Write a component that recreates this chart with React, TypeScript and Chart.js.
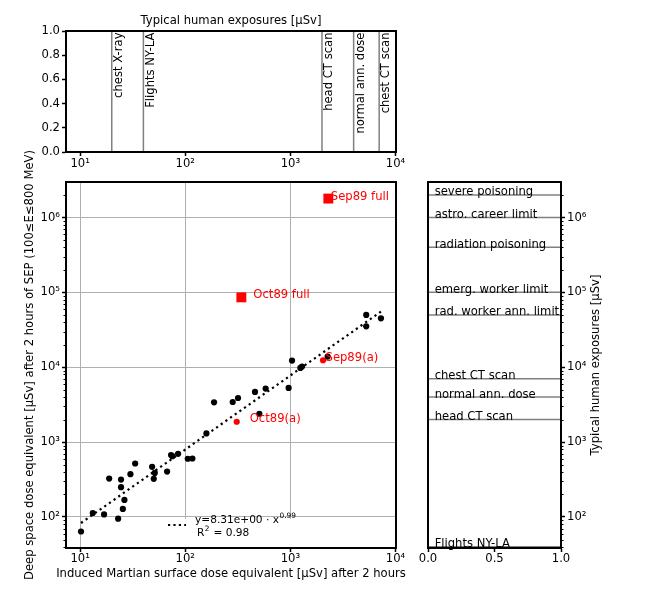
import React, { useEffect, useRef } from "react";
import { Chart, registerables } from "chart.js";

Chart.register(...registerables);

const W = 660;
const H = 609;
const FONT_FAMILY = "'DejaVu Sans', 'Liberation Sans', sans-serif";
const BASE_SIZE = 11.6;
const LEGEND_SIZE = 10.6;

// ---------------- data ----------------
// Top panel: typical human exposures as vertical markers [µSv]
const exposureLabels = ["chest X-ray", "Flights NY-LA", "head CT scan", "normal ann. dose", "chest CT scan"];
const exposureValues = [20, 40, 2000, 4000, 7000];

// Right panel: typical human exposures as horizontal markers [µSv]
const limitLabels = [
  "severe poisoning",
  "astro. career limit",
  "radiation poisoning",
  "emerg. worker limit",
  "rad. worker ann. limit",
  "chest CT scan",
  "normal ann. dose",
  "head CT scan",
  "Flights NY-LA",
];
const limitValues = [2e6, 1e6, 4e5, 1e5, 5e4, 7000, 4000, 2000, 40];

// Main panel: Martian surface dose (x) vs deep space dose (y) [µSv]
const marsDose = [
  10.2, 13.2, 16.9, 18.9, 23, 24.5, 24.5, 25.5, 26.4, 30.1, 33.4, 48.4, 50.2, 51.3, 67.2, 73.3, 75.5, 85.5,
  105.7, 117, 159, 188, 283, 318, 461, 507, 582, 963, 1038, 1245, 1291, 2265, 5270, 5270, 7280,
];
const spaceDose = [
  64, 113, 108, 326, 95, 316, 250, 128, 169, 373, 518, 468, 323, 388, 404, 670, 649, 698,
  599, 604, 1307, 3400, 3433, 3880, 4677, 2393, 5180, 5290, 12270, 9800, 10200, 13880, 49900, 35200, 45000,
];

const eventPartLabels = ["Sep89(a)", "Oct89(a)"];
const eventPartMars = [2046, 309];
const eventPartSpace = [12400, 1870];

const eventFullLabels = ["Sep89 full", "Oct89 full"];
const eventFullMars = [2298, 342];
const eventFullSpace = [1.79e6, 85800];

// power-law fit line end points
const fitMars = [10.2, 7280];
const fitSpace = [83, 55300];
const fitEquation = "y=8.31e+00 · x";
const fitExponent = "0.99";
const fitR2 = "0.98";

// axis ranges and ticks
const X_MIN = 7.34;
const X_MAX = 10120;
const Y_MIN = 38.5;
const Y_MAX = 2.98e6;
const xDecades = [10, 100, 1000, 10000];
const yDecades = [100, 1000, 1e4, 1e5, 1e6];
const topYTicks = [0, 0.2, 0.4, 0.6, 0.8, 1.0];
const sideXTicks = [0, 0.5, 1.0];

// text
const topTitle = "Typical human exposures [µSv]";
const mainXTitle = "Induced Martian surface dose equivalent [µSv] after 2 hours";
const mainYTitle = "Deep space dose equivalent [µSv] after 2 hours of SEP (100≤E≤800 MeV)";
const sideYTitle = "Typical human exposures [µSv]";

// ---------------- helpers ----------------
const SUP: Record<string, string> = {
  "0": "⁰", "1": "¹", "2": "²", "3": "³", "4": "⁴", "5": "⁵", "6": "⁶", "7": "⁷", "8": "⁸", "9": "⁹", "-": "⁻",
};
const sup = (n: number) => String(n).split("").map((c) => SUP[c] ?? c).join("");
const powLabel = (v: number) => "10" + sup(Math.round(Math.log10(v)));
const font = (size: number) => `${size}px ${FONT_FAMILY}`;

const TOP_AREA = { left: 66, top: 31, right: 396, bottom: 152 };
const MAIN_AREA = { left: 66, top: 182, right: 396, bottom: 548 };
const SIDE_AREA = { left: 428, top: 182, right: 561, bottom: 548 };

const LINE_GRAY = "#808080";
const GRID_GRAY = "#b0b0b0";

const commonOptions: any = {
  responsive: false,
  animation: false,
  devicePixelRatio: 1,
  events: [],
  plugins: { legend: { display: false }, tooltip: { enabled: false }, title: { display: false } },
};

const tickFont = { family: FONT_FAMILY, size: BASE_SIZE };

function minorLogValues(min: number, max: number) {
  const out: number[] = [];
  for (let k = Math.floor(Math.log10(min)); k <= Math.ceil(Math.log10(max)); k++) {
    for (let m = 2; m <= 9; m++) {
      const v = m * Math.pow(10, k);
      if (v >= min && v <= max) out.push(v);
    }
  }
  return out;
}

function drawFrame(chart: any) {
  const { ctx, chartArea: a } = chart;
  ctx.save();
  ctx.strokeStyle = "black";
  ctx.lineWidth = 2;
  ctx.strokeRect(a.left, a.top, a.right - a.left, a.bottom - a.top);
  ctx.restore();
}

function drawMinorY(chart: any, side: "left" | "right") {
  const { ctx, chartArea: a } = chart;
  const s = chart.scales.y;
  ctx.save();
  ctx.strokeStyle = "black";
  ctx.lineWidth = 1;
  const x0 = side === "left" ? a.left : a.right;
  const dx = side === "left" ? -2.5 : 2.5;
  for (const v of minorLogValues(s.min, s.max)) {
    const y = Math.round(s.getPixelForValue(v)) + 0.5;
    ctx.beginPath();
    ctx.moveTo(x0, y);
    ctx.lineTo(x0 + dx, y);
    ctx.stroke();
  }
  ctx.restore();
}

function rotatedText(ctx: CanvasRenderingContext2D, text: string, x: number, y: number, align: CanvasTextAlign, baseline: CanvasTextBaseline, size: number, color = "black") {
  ctx.save();
  ctx.translate(x, y);
  ctx.rotate(-Math.PI / 2);
  ctx.font = font(size);
  ctx.fillStyle = color;
  ctx.textAlign = align;
  ctx.textBaseline = baseline;
  ctx.fillText(text, 0, 0);
  ctx.restore();
}

function logTicks(values: number[], min: number, max: number) {
  return values.filter((v) => v >= min && v <= max).map((v) => ({ value: v, major: true }));
}

// ---------------- charts ----------------
function makeTop(canvas: HTMLCanvasElement) {
  const datasets = exposureValues.map((v) => ({
    data: [{ x: v, y: 0 }, { x: v, y: 1 }],
    showLine: true,
    borderColor: LINE_GRAY,
    borderWidth: 1.5,
    pointRadius: 0,
  }));
  const plugin = {
    id: "topDecor",
    afterDatasetsDraw(chart: any) {
      const { ctx, chartArea: a } = chart;
      const xs = chart.scales.x;
      exposureValues.forEach((v, i) => {
        const px = xs.getPixelForValue(v);
        rotatedText(ctx, exposureLabels[i], px + 1.5, a.top + 1.5, "right", "top", BASE_SIZE);
      });
      ctx.save();
      ctx.font = font(BASE_SIZE);
      ctx.fillStyle = "black";
      ctx.textAlign = "center";
      ctx.textBaseline = "middle";
      ctx.fillText(topTitle, (a.left + a.right) / 2, 20.5);
      ctx.restore();
    },
    afterDraw(chart: any) {
      drawFrame(chart);
    },
  };
  return new Chart(canvas, {
    type: "scatter",
    data: { datasets } as any,
    options: {
      ...commonOptions,
      layout: { padding: { left: 0, top: TOP_AREA.top, right: W - TOP_AREA.right, bottom: 0 } },
      scales: {
        x: {
          type: "logarithmic",
          min: X_MIN,
          max: X_MAX,
          afterBuildTicks: (s: any) => { s.ticks = logTicks(xDecades, X_MIN, X_MAX); },
          afterFit: (s: any) => { s.height = H - TOP_AREA.bottom; },
          ticks: { autoSkip: false, maxRotation: 0, padding: 1, color: "black", font: tickFont, callback: (v: any) => powLabel(Number(v)) },
          grid: { drawOnChartArea: false, tickLength: 4, tickColor: "black", tickWidth: 1.5 },
          border: { color: "black", width: 2 },
        },
        y: {
          type: "linear",
          min: 0,
          max: 1,
          afterBuildTicks: (s: any) => { s.ticks = topYTicks.map((v) => ({ value: v })); },
          afterFit: (s: any) => { s.width = TOP_AREA.left; },
          ticks: { autoSkip: false, padding: 2, color: "black", font: tickFont, callback: (v: any) => Number(v).toFixed(1) },
          grid: { drawOnChartArea: false, tickLength: 4, tickColor: "black", tickWidth: 1.5 },
          border: { color: "black", width: 2 },
        },
      },
    } as any,
    plugins: [plugin],
  });
}

function makeMain(canvas: HTMLCanvasElement) {
  const pts = (xs: number[], ys: number[]) => xs.map((x, i) => ({ x, y: ys[i] }));
  const datasets = [
    {
      data: pts(eventFullMars, eventFullSpace),
      pointStyle: "rect",
      pointRadius: 7,
      backgroundColor: "#ff0000",
      borderWidth: 0,
    },
    {
      data: pts(marsDose, spaceDose),
      pointRadius: 3.1,
      backgroundColor: "#000000",
      borderWidth: 0,
    },
    {
      data: pts(eventPartMars, eventPartSpace),
      pointRadius: 3.1,
      backgroundColor: "#ff0000",
      borderWidth: 0,
    },
    {
      data: pts(fitMars, fitSpace),
      showLine: true,
      borderColor: "black",
      borderWidth: 2.2,
      borderDash: [2.2, 3.5],
      pointRadius: 0,
    },
  ];
  const fullOffsets = [2.5, 12];
  const partOffsets = [2.5, 13];
  const plugin = {
    id: "mainDecor",
    afterDatasetsDraw(chart: any) {
      const { ctx, chartArea: a } = chart;
      const xs = chart.scales.x;
      const ys = chart.scales.y;
      ctx.save();
      ctx.font = font(BASE_SIZE);
      ctx.fillStyle = "#ff0000";
      ctx.textAlign = "left";
      ctx.textBaseline = "alphabetic";
      eventFullLabels.forEach((t, i) => {
        ctx.fillText(t, xs.getPixelForValue(eventFullMars[i]) + fullOffsets[i], ys.getPixelForValue(eventFullSpace[i]) + 1);
      });
      eventPartLabels.forEach((t, i) => {
        ctx.fillText(t, xs.getPixelForValue(eventPartMars[i]) + partOffsets[i], ys.getPixelForValue(eventPartSpace[i]) + 0.5);
      });
      ctx.restore();

      // legend (lower center)
      const cx = (a.left + a.right) / 2;
      const gridY = ys.getPixelForValue(100);
      ctx.save();
      ctx.fillStyle = "white";
      ctx.fillRect(cx - 68, gridY + 2, 137, a.bottom - gridY - 3);
      ctx.strokeStyle = "black";
      ctx.lineWidth = 2.2;
      ctx.setLineDash([2.2, 3.2]);
      const dy = a.bottom - 23;
      ctx.beginPath();
      ctx.moveTo(cx - 63, dy);
      ctx.lineTo(cx - 45, dy);
      ctx.stroke();
      ctx.setLineDash([]);
      ctx.fillStyle = "black";
      ctx.textAlign = "left";
      ctx.textBaseline = "middle";
      const tx = cx - 36;
      const l1 = a.bottom - 28;
      const l2 = a.bottom - 14.5;
      ctx.font = font(LEGEND_SIZE);
      ctx.fillText(fitEquation, tx, l1);
      let w = ctx.measureText(fitEquation).width;
      ctx.font = font(LEGEND_SIZE * 0.7);
      ctx.fillText(fitExponent, tx + w + 0.5, l1 - 4);
      ctx.font = font(LEGEND_SIZE);
      ctx.fillText("R", tx + 2, l2);
      w = ctx.measureText("R").width;
      ctx.font = font(LEGEND_SIZE * 0.7);
      ctx.fillText("2", tx + 2 + w + 0.5, l2 - 4);
      const w2 = ctx.measureText("2").width;
      ctx.font = font(LEGEND_SIZE);
      ctx.fillText(" = " + fitR2, tx + 2 + w + w2 + 1, l2);
      ctx.restore();

      // axis titles
      ctx.save();
      ctx.font = font(BASE_SIZE);
      ctx.fillStyle = "black";
      ctx.textAlign = "center";
      ctx.textBaseline = "middle";
      ctx.fillText(mainXTitle, cx, 574);
      ctx.restore();
      rotatedText(ctx, mainYTitle, 30, (a.top + a.bottom) / 2, "center", "middle", BASE_SIZE);
    },
    afterDraw(chart: any) {
      drawMinorY(chart, "left");
      drawFrame(chart);
    },
  };
  return new Chart(canvas, {
    type: "scatter",
    data: { datasets } as any,
    options: {
      ...commonOptions,
      layout: { padding: { left: 0, top: MAIN_AREA.top, right: W - MAIN_AREA.right, bottom: 0 } },
      scales: {
        x: {
          type: "logarithmic",
          min: X_MIN,
          max: X_MAX,
          afterBuildTicks: (s: any) => { s.ticks = logTicks(xDecades, X_MIN, X_MAX); },
          afterFit: (s: any) => { s.height = H - MAIN_AREA.bottom; },
          ticks: { autoSkip: false, maxRotation: 0, padding: 0, color: "black", font: tickFont, callback: (v: any) => powLabel(Number(v)) },
          grid: { color: GRID_GRAY, lineWidth: 1, tickLength: 4, tickColor: "black", tickWidth: 1.5 },
          border: { color: "black", width: 2 },
        },
        y: {
          type: "logarithmic",
          min: Y_MIN,
          max: Y_MAX,
          afterBuildTicks: (s: any) => { s.ticks = logTicks(yDecades, Y_MIN, Y_MAX); },
          afterFit: (s: any) => { s.width = MAIN_AREA.left; },
          ticks: { autoSkip: false, padding: 2, color: "black", font: tickFont, callback: (v: any) => powLabel(Number(v)) },
          grid: { color: GRID_GRAY, lineWidth: 1, tickLength: 4, tickColor: "black", tickWidth: 1.5 },
          border: { color: "black", width: 2 },
        },
      },
    } as any,
    plugins: [plugin],
  });
}

function makeSide(canvas: HTMLCanvasElement) {
  const datasets = limitValues.map((v) => ({
    data: [{ x: 0, y: v }, { x: 1, y: v }],
    showLine: true,
    borderColor: LINE_GRAY,
    borderWidth: 1.5,
    pointRadius: 0,
  }));
  const plugin = {
    id: "sideDecor",
    afterDatasetsDraw(chart: any) {
      const { ctx, chartArea: a } = chart;
      const xs = chart.scales.x;
      const ys = chart.scales.y;
      ctx.save();
      ctx.font = font(BASE_SIZE);
      ctx.fillStyle = "black";
      ctx.textAlign = "left";
      ctx.textBaseline = "alphabetic";
      limitValues.forEach((v, i) => {
        ctx.fillText(limitLabels[i], xs.getPixelForValue(0.05), ys.getPixelForValue(v) + 0.5);
      });
      ctx.restore();
      rotatedText(ctx, sideYTitle, 596, (a.top + a.bottom) / 2, "center", "middle", BASE_SIZE);
    },
    afterDraw(chart: any) {
      drawMinorY(chart, "right");
      drawFrame(chart);
    },
  };
  return new Chart(canvas, {
    type: "scatter",
    data: { datasets } as any,
    options: {
      ...commonOptions,
      layout: { padding: { left: SIDE_AREA.left, top: SIDE_AREA.top, right: 0, bottom: 0 } },
      scales: {
        x: {
          type: "linear",
          min: 0,
          max: 1,
          afterBuildTicks: (s: any) => { s.ticks = sideXTicks.map((v) => ({ value: v })); },
          afterFit: (s: any) => { s.height = H - SIDE_AREA.bottom; },
          ticks: { autoSkip: false, maxRotation: 0, padding: 0, color: "black", font: tickFont, callback: (v: any) => Number(v).toFixed(1) },
          grid: { drawOnChartArea: false, tickLength: 4, tickColor: "black", tickWidth: 1.5 },
          border: { color: "black", width: 2 },
        },
        y: {
          type: "logarithmic",
          position: "right",
          min: Y_MIN,
          max: Y_MAX,
          afterBuildTicks: (s: any) => { s.ticks = logTicks(yDecades, Y_MIN, Y_MAX); },
          afterFit: (s: any) => { s.width = W - SIDE_AREA.right; },
          ticks: { autoSkip: false, padding: 2, color: "black", font: tickFont, callback: (v: any) => powLabel(Number(v)) },
          grid: { drawOnChartArea: false, tickLength: 4, tickColor: "black", tickWidth: 1.5 },
          border: { color: "black", width: 2 },
        },
      },
    } as any,
    plugins: [plugin],
  });
}

export default function App() {
  const topRef = useRef<HTMLCanvasElement>(null);
  const mainRef = useRef<HTMLCanvasElement>(null);
  const sideRef = useRef<HTMLCanvasElement>(null);

  useEffect(() => {
    const charts = [
      makeMain(mainRef.current as HTMLCanvasElement),
      makeTop(topRef.current as HTMLCanvasElement),
      makeSide(sideRef.current as HTMLCanvasElement),
    ];
    return () => charts.forEach((c) => c.destroy());
  }, []);

  const cs: React.CSSProperties = { position: "absolute", left: 0, top: 0, width: W, height: H };
  return (
    <div style={{ position: "absolute", left: 0, top: 0, width: W, height: H, background: "white" }}>
      <canvas ref={mainRef} width={W} height={H} style={cs} />
      <canvas ref={topRef} width={W} height={H} style={cs} />
      <canvas ref={sideRef} width={W} height={H} style={cs} />
    </div>
  );
}
